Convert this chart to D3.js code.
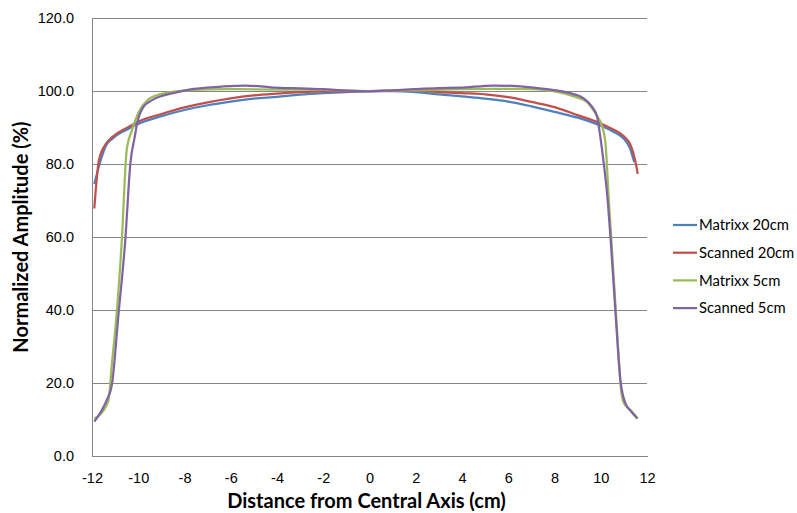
<!DOCTYPE html>
<html>
<head>
<meta charset="utf-8">
<script src="https://cdn.jsdelivr.net/npm/d3@7"></script>
<style>
    body { margin: 0; background: #fff; }
    svg { font-family: Lato, "Open Sans", sans-serif; }
    .tick-label { font-size: 14.5px; fill: #000; }
    .axis-label { font-size: 20px; font-weight: bold; fill: #000; }
    .legend-label { font-size: 14.8px; fill: #000; }
</style>
</head>
<body>
<svg id="chart"></svg>
<script>
// values: [distance (cm), normalized amplitude (%)]
const matrixx20 = [
    [-11.9, 74.5], [-11.6, 81.5], [-11.4, 85.0], [-11.1, 87.0], [-10.5, 89.4], [-10, 91.0],
    [-9, 93.1], [-8, 94.8], [-7, 96.1], [-6, 97.1], [-5, 97.9], [-4, 98.4], [-3, 99.0],
    [-2, 99.4], [-1, 99.7], [0, 100], [1, 100], [2, 99.7], [3, 99.1], [4, 98.5], [5, 97.9],
    [6, 97.1], [7, 95.8], [8, 94.3], [9, 92.7], [10, 90.5], [10.5, 89.0], [11, 86.9],
    [11.25, 84.5], [11.45, 80.5]
]
const scanned20 = [
    [-11.9, 67.8], [-11.7, 81.0], [-11.4, 85.5], [-11.1, 87.5], [-10.5, 89.9], [-10, 91.6],
    [-9, 93.7], [-8, 95.5], [-7, 96.9], [-6, 98.0], [-5, 98.8], [-4, 99.3], [-3, 99.7],
    [-2, 99.9], [-1, 99.9], [0, 100], [1, 100.1], [2, 100.1], [2.6, 99.9], [3, 99.7],
    [4, 99.4], [5, 99.1], [6, 98.3], [7, 97.0], [8, 95.6], [9, 93.4], [10, 91.1],
    [10.5, 89.6], [11, 87.6], [11.3, 85.0], [11.47, 81.5], [11.6, 77.3]
]
const matrixx5 = [
    [-11.9, 10.2], [-11.3, 14.9], [-11.14, 25.2], [-10.92, 40.0], [-10.71, 59.2], [-10.5, 83.8],
    [-10.27, 89.3], [-10, 94.0], [-9.6, 97.5], [-9, 99.2], [-8.5, 99.8], [-8, 100.2],
    [-6, 100.5], [-4, 100.4], [-2, 100.3], [0, 100], [2, 100.2], [4, 100.5], [6, 100.6],
    [7, 100.5], [8, 99.9], [8.9, 98.4], [9.4, 97.0], [9.8, 93.5], [10.05, 90.5], [10.2, 86.0],
    [10.35, 70.0], [10.5, 55.0], [10.7, 35.0], [10.88, 18.0], [11.0, 14.5], [11.3, 12.5],
    [11.6, 10.3]
]
const scanned5 = [
    [-11.9, 9.4], [-11.57, 12.6], [-11.35, 15.5], [-11.14, 19.5], [-10.85, 39.1], [-10.56, 59.2],
    [-10.34, 80.2], [-10.15, 87.5], [-10.05, 91.1], [-9.77, 95.7], [-9.4, 97.5], [-8.5, 99.4],
    [-7.8, 100.4], [-6.4, 101.2], [-5.35, 101.5], [-4.05, 100.9], [-3, 100.7], [-2, 100.5],
    [-1, 100.1], [0, 99.9], [1, 100.2], [1.9, 100.5], [3, 100.8], [3.9, 100.9], [5.35, 101.5],
    [6.2, 101.4], [7, 101.0], [7.67, 100.5], [8.68, 99.4], [9.26, 98.0], [9.62, 95.7],
    [9.84, 93.0], [9.98, 87.5], [10.13, 80.2], [10.3, 70.1], [10.42, 60.1], [10.63, 40.0],
    [10.85, 20.8], [11.07, 14.4], [11.3, 12.3], [11.58, 10.3]
]

const seriesNames = ['Matrixx 20cm', 'Scanned 20cm', 'Matrixx 5cm', 'Scanned 5cm']
const seriesColors = ['#4F81BD', '#C0504D', '#9BBB59', '#8064A2']
const xTicks = [-12, -10, -8, -6, -4, -2, 0, 2, 4, 6, 8, 10, 12]
const yTicks = [0, 20, 40, 60, 80, 100, 120]

const config = {
    containerWidth: 797,
    containerHeight: 513,
    margin: {top: 18, right: 150, bottom: 57, left: 92}
}

const width = config.containerWidth - config.margin.left - config.margin.right
const height = config.containerHeight - config.margin.top - config.margin.bottom

const svg = d3.select('#chart')
    .attr('width', config.containerWidth)
    .attr('height', config.containerHeight)

const chart = svg.append('g')
    .attr('transform', `translate(${config.margin.left}, ${config.margin.top})`)

const xScale = d3.scaleLinear().domain([-12, 12]).range([0, width])
const yScale = d3.scaleLinear().domain([0, 120]).range([height, 0])

// horizontal gridlines + y labels
const yAxis = d3.axisLeft(yScale)
    .tickValues(yTicks)
    .tickSize(-width)
    .tickPadding(18)
    .tickFormat(d => d.toFixed(1))

const yAxisG = chart.append('g').call(yAxis)
yAxisG.selectAll('.tick line').attr('stroke', '#868686').attr('shape-rendering', 'crispEdges')
yAxisG.selectAll('.tick text').attr('class', 'tick-label').attr('font-size', null).attr('font-family', null)
yAxisG.select('.domain')
    .attr('d', `M0,0V${height}`)
    .attr('stroke', '#868686')
    .attr('shape-rendering', 'crispEdges')

// x axis labels, no tick marks
const xAxis = d3.axisBottom(xScale)
    .tickValues(xTicks)
    .tickSize(0)
    .tickPadding(17)
    .tickFormat(d => d)

const xAxisG = chart.append('g')
    .attr('transform', `translate(0, ${height})`)
    .call(xAxis)
xAxisG.select('.domain').attr('stroke', '#868686').attr('shape-rendering', 'crispEdges')
xAxisG.selectAll('.tick text').attr('class', 'tick-label').attr('font-size', null).attr('font-family', null)

// lines
const line = d3.line()
    .x(d => xScale(d[0]))
    .y(d => yScale(d[1]))
    .curve(d3.curveMonotoneX)

const allSeries = [matrixx20, scanned20, matrixx5, scanned5]

chart.selectAll('.series')
    .data(allSeries)
    .join('path')
    .attr('class', 'series')
    .attr('d', line)
    .attr('fill', 'none')
    .attr('stroke', (d, i) => seriesColors[i])
    .attr('stroke-width', 2.25)
    .attr('stroke-linejoin', 'round')

// axis titles
svg.append('text')
    .attr('class', 'axis-label')
    .attr('x', config.margin.left + xScale(0) - 3)
    .attr('y', 508)
    .attr('text-anchor', 'middle')
    .text('Distance from Central Axis (cm)')

svg.append('text')
    .attr('class', 'axis-label')
    .attr('transform', `translate(28, ${config.margin.top + height / 2}) rotate(-90)`)
    .attr('text-anchor', 'middle')
    .text('Normalized Amplitude (%)')

// legend
const legend = svg.append('g')
    .attr('transform', 'translate(673, 225)')

const legendItems = legend.selectAll('.legend-item')
    .data(seriesNames)
    .join('g')
    .attr('class', 'legend-item')
    .attr('transform', (d, i) => `translate(0, ${i * 27.7})`)

legendItems.append('line')
    .attr('x1', 0)
    .attr('x2', 24)
    .attr('stroke', (d, i) => seriesColors[i])
    .attr('stroke-width', 2.25)

legendItems.append('text')
    .attr('class', 'legend-label')
    .attr('x', 26)
    .attr('dy', '0.35em')
    .text(d => d)
</script>
</body>
</html>
